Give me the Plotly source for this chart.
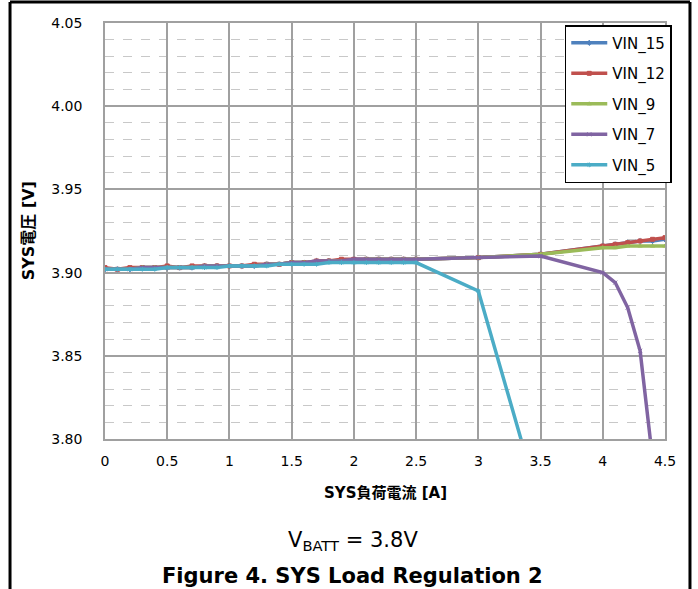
import plotly.graph_objects as go

# Load current [A]
current = [0.0, 0.1, 0.2, 0.3, 0.4, 0.5, 0.6, 0.7, 0.8, 0.9, 1.0, 1.1, 1.2, 1.3,
           1.4, 1.5, 1.6, 1.7, 1.8, 1.9, 2.0, 2.1, 2.2, 2.3, 2.4, 2.5,
           3.0, 3.5, 4.0, 4.1, 4.2, 4.3, 4.4, 4.5]

vin_15 = [3.902, 3.902, 3.902, 3.903, 3.903, 3.903, 3.903, 3.903, 3.904, 3.904,
          3.904, 3.904, 3.904, 3.905, 3.905, 3.906, 3.906, 3.907, 3.907, 3.907,
          3.908, 3.908, 3.908, 3.908, 3.908, 3.908,
          3.909, 3.911, 3.916, 3.917, 3.918, 3.919, 3.919, 3.920]
vin_12 = [3.903, 3.902, 3.903, 3.903, 3.903, 3.904, 3.903, 3.904, 3.904, 3.904,
          3.904, 3.904, 3.905, 3.905, 3.905, 3.906, 3.906, 3.907, 3.907, 3.908,
          3.908, 3.908, 3.908, 3.908, 3.908, 3.908,
          3.909, 3.911, 3.916, 3.917, 3.918, 3.919, 3.920, 3.921]
vin_9 = [3.902, 3.902, 3.902, 3.903, 3.903, 3.903, 3.903, 3.903, 3.904, 3.904,
         3.904, 3.904, 3.904, 3.905, 3.905, 3.906, 3.906, 3.906, 3.907, 3.907,
         3.907, 3.908, 3.908, 3.908, 3.908, 3.908,
         3.909, 3.911, 3.915, 3.915, 3.916, 3.916, 3.916, 3.916]
vin_7 = [3.902, 3.902, 3.902, 3.903, 3.903, 3.903, 3.903, 3.903, 3.904, 3.904,
         3.904, 3.904, 3.904, 3.905, 3.905, 3.906, 3.906, 3.907, 3.907, 3.907,
         3.908, 3.908, 3.908, 3.908, 3.908, 3.908,
         3.909, 3.910, 3.900, 3.894, 3.879, 3.853, 3.788, None]
vin_5 = [3.902, 3.902, 3.902, 3.902, 3.902, 3.903, 3.903, 3.903, 3.903, 3.903,
         3.904, 3.904, 3.904, 3.904, 3.905, 3.905, 3.905, 3.905, 3.906, 3.906,
         3.906, 3.906, 3.906, 3.906, 3.906, 3.906,
         3.889, 3.759, None, None, None, None, None, None]

series_names = ["VIN_15", "VIN_12", "VIN_9", "VIN_7", "VIN_5"]
series_values = [vin_15, vin_12, vin_9, vin_7, vin_5]
colors = ["#4F81BD", "#C0504D", "#9BBB59", "#8064A2", "#4BACC6"]
symbols = ["diamond", "square", "triangle-up", "x-thin", "asterisk"]

x_ticks = [0, 0.5, 1, 1.5, 2, 2.5, 3, 3.5, 4, 4.5]
x_tick_labels = ["0", "0.5", "1", "1.5", "2", "2.5", "3", "3.5", "4", "4.5"]
y_ticks = [3.80, 3.85, 3.90, 3.95, 4.00, 4.05]
y_tick_labels = ["3.80", "3.85", "3.90", "3.95", "4.00", "4.05"]

FONT = "Verdana, DejaVu Sans, Noto Sans CJK JP"

fig = go.Figure()
for name, vals, col, sym in zip(series_names, series_values, colors, symbols):
    fig.add_trace(go.Scatter(
        x=current, y=vals, name=name, mode="lines+markers",
        line=dict(color=col, width=3.5),
        marker=dict(symbol=sym, size=4, color=col, line=dict(color=col, width=1)),
        legendgroup=name, connectgaps=False,
    ))

# outer frame
fig.add_shape(type="line", xref="paper", yref="paper", x0=-0.1696, x1=-0.1696, y0=-0.5, y1=1.0505,
              line=dict(color="black", width=3))
fig.add_shape(type="line", xref="paper", yref="paper", x0=1.0446, x1=1.0446, y0=-0.5, y1=1.0505,
              line=dict(color="black", width=3))
fig.add_shape(type="line", xref="paper", yref="paper", x0=-0.1696, x1=1.0446, y0=1.0505, y1=1.0505,
              line=dict(color="black", width=3))

fig.add_annotation(text="<b>SYS負荷電流 [A]</b>", xref="paper", yref="paper", x=0.5, y=-0.13,
                   showarrow=False, font=dict(family=FONT, size=15, color="black"),
                   xanchor="center", yanchor="middle")
fig.add_annotation(text="<b>SYS電圧 [V]</b>", xref="paper", yref="paper", x=-0.137, y=0.5,
                   textangle=-90, showarrow=False, font=dict(family=FONT, size=16, color="black"),
                   xanchor="center", yanchor="middle")
fig.add_annotation(text="V<sub>BATT</sub> = 3.8V", xref="paper", yref="paper", x=0.442, y=-0.245,
                   showarrow=False, font=dict(family=FONT, size=21, color="black"),
                   xanchor="center", yanchor="middle")
fig.add_annotation(text="<b>Figure 4. SYS Load Regulation 2</b>", xref="paper", yref="paper",
                   x=0.442, y=-0.33, showarrow=False,
                   font=dict(family=FONT, size=21, color="black"),
                   xanchor="center", yanchor="middle")

fig.update_layout(
    width=698, height=589,
    margin=dict(l=105, r=33, t=23, b=150),
    paper_bgcolor="white", plot_bgcolor="white",
    font=dict(family=FONT, size=14, color="black"),
    showlegend=True,
    legend=dict(x=0.821, y=0.995, xanchor="left", yanchor="top",
                bordercolor="black", borderwidth=1.5, bgcolor="white",
                font=dict(family=FONT, size=15, color="black"),
                tracegroupgap=8, traceorder="grouped", itemwidth=36),
    xaxis=dict(range=[0, 4.5], tickvals=x_ticks, ticktext=x_tick_labels,
               showgrid=True, gridcolor="#A0A0A0", gridwidth=1.5,
               showline=True, linecolor="#A0A0A0", linewidth=1.5, mirror=True,
               zeroline=False, ticks="", ticklabelstandoff=8,
               tickfont=dict(family=FONT, size=14)),
    yaxis=dict(range=[3.80, 4.05], tickvals=y_ticks, ticktext=y_tick_labels,
               showgrid=True, gridcolor="#A0A0A0", gridwidth=1.5,
               showline=True, linecolor="#A0A0A0", linewidth=1.5, mirror=True,
               zeroline=False, ticks="", ticklabelstandoff=18,
               tickfont=dict(family=FONT, size=14),
               minor=dict(dtick=0.01, showgrid=True, gridcolor="#C8C8C8",
                          griddash="dash", gridwidth=1)),
)

fig.write_html("out.html")
